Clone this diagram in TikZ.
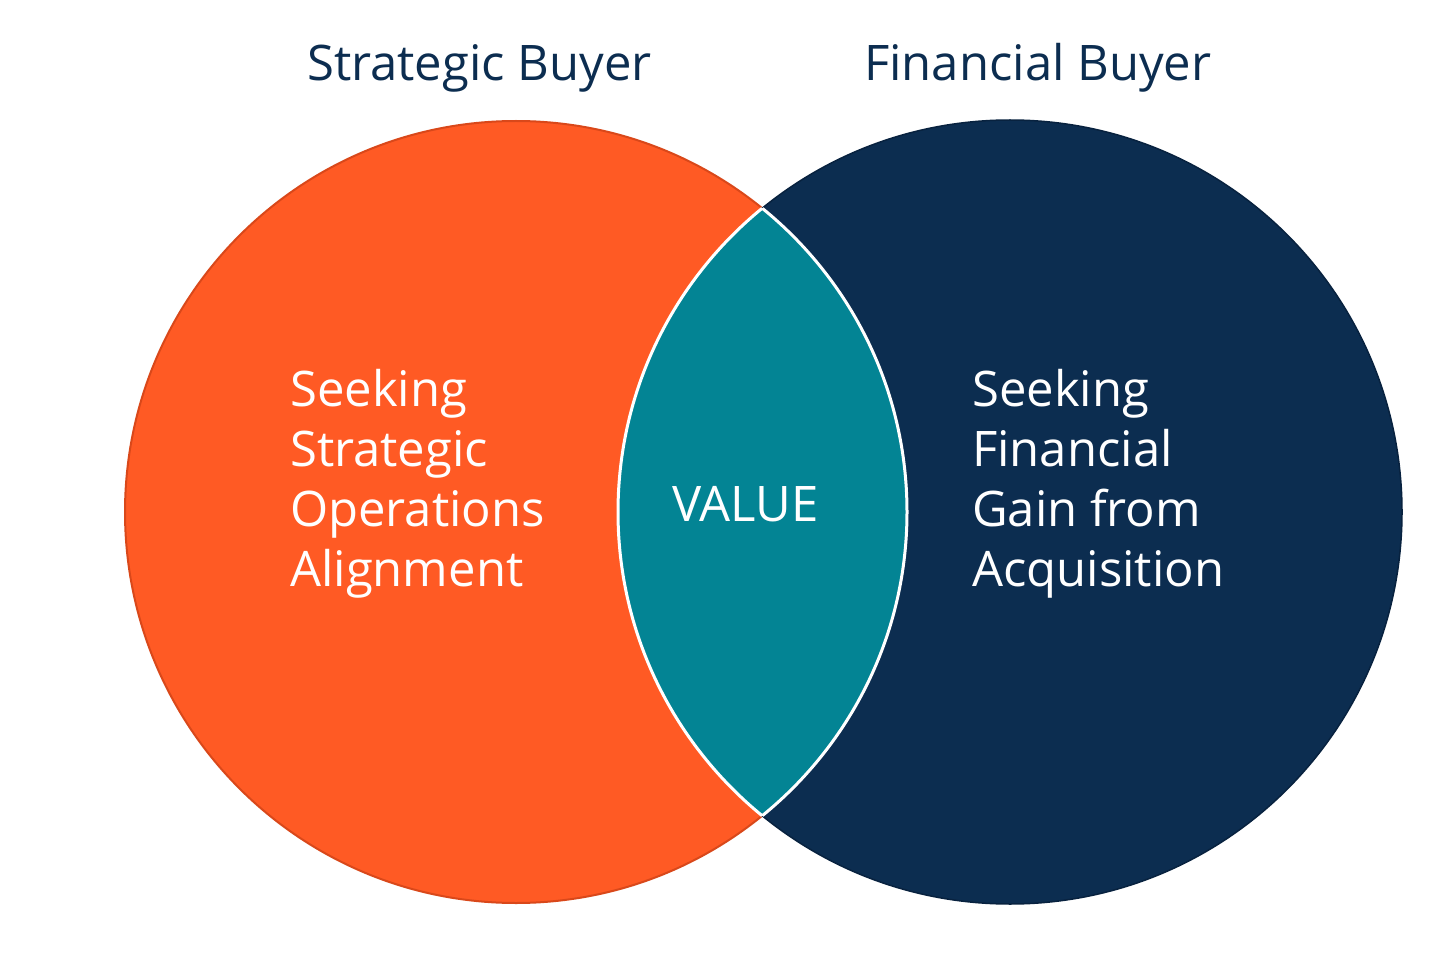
\documentclass[tikz,border=0pt]{standalone}
\usepackage{fontspec}
\setmainfont{Open Sans}
\definecolor{sorange}{HTML}{FF5A24}
\definecolor{sorangeedge}{HTML}{D9481A}
\definecolor{fnavy}{HTML}{0C2D50}
\definecolor{fnavyedge}{HTML}{08223F}
\definecolor{vteal}{HTML}{038494}
\tikzset{
  title/.style={inner sep=0pt, text=fnavy, font=\fontsize{49}{56}\selectfont, anchor=base west},
  body/.style={inner sep=0pt, text=white, font=\fontsize{49}{60}\selectfont, align=left, anchor=base west},
}
\begin{document}
\begin{tikzpicture}[x=1pt,y=-1pt]
\useasboundingbox (0,0) rectangle (1456,976);
\coordinate (cL) at (516,512);
\coordinate (cR) at (1010,512);
\fill[sorange, draw=sorangeedge, line width=2pt] (cL) circle[radius=391];
\fill[fnavy, draw=fnavyedge, line width=1.5pt] (cR) circle[radius=392];
\begin{scope}
  \clip (cL) circle[radius=391];
  \fill[vteal] (cR) circle[radius=392];
  \draw[white, line width=3pt] (cR) circle[radius=392];
\end{scope}
\begin{scope}
  \clip (cR) circle[radius=392];
  \draw[white, line width=3pt] (cL) circle[radius=391];
\end{scope}
\node[title] (ts) at (307,81) {Strategic Buyer};
\node[title] (tf) at (864,81) {Financial Buyer};
\node[body] (ls) at (290,586) {Seeking\\Strategic\\Operations\\Alignment};
\node[body] (rs) at (972,586) {Seeking\\Financial\\Gain from\\Acquisition};
\node[body] (v) at (672,521) {VALUE};
\end{tikzpicture}
\end{document}
